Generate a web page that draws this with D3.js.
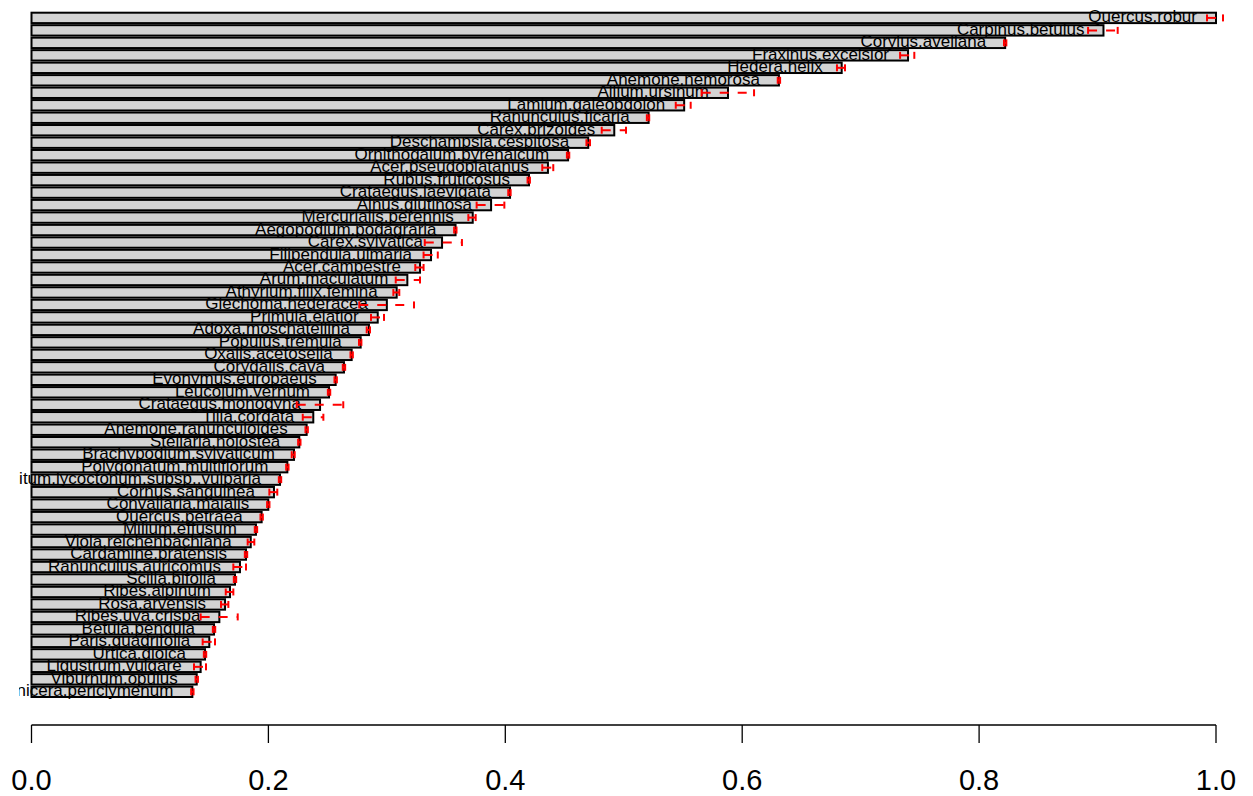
<!DOCTYPE html>
<html>
<head>
<meta charset="utf-8">
<script src="https://cdn.jsdelivr.net/npm/d3@7"></script>
<style>
  html, body { margin: 0; padding: 0; background: #ffffff; }
  svg { display: block; }
  text { font-family: "Liberation Sans", Arial, Helvetica, sans-serif; }
</style>
</head>
<body>
<script>
// ---- data ----
const species = [
  "Quercus.robur","Carpinus.betulus","Corylus.avellana","Fraxinus.excelsior","Hedera.helix",
  "Anemone.nemorosa","Allium.ursinum","Lamium.galeobdolon","Ranunculus.ficaria","Carex.brizoides",
  "Deschampsia.cespitosa","Ornithogalum.pyrenaicum","Acer.pseudoplatanus","Rubus.fruticosus","Crataegus.laevigata",
  "Alnus.glutinosa","Mercurialis.perennis","Aegopodium.podagraria","Carex.sylvatica","Filipendula.ulmaria",
  "Acer.campestre","Arum.maculatum","Athyrium.filix.femina","Glechoma.hederacea","Primula.elatior",
  "Adoxa.moschatellina","Populus.tremula","Oxalis.acetosella","Corydalis.cava","Evonymus.europaeus",
  "Leucojum.vernum","Crataegus.monogyna","Tilia.cordata","Anemone.ranunculoides","Stellaria.holostea",
  "Brachypodium.sylvaticum","Polygonatum.multiflorum","Aconitum.lycoctonum.subsp..vulparia","Cornus.sanguinea","Convallaria.majalis",
  "Quercus.petraea","Milium.effusum","Viola.reichenbachiana","Cardamine.pratensis","Ranunculus.auricomus",
  "Scilla.bifolia","Ribes.alpinum","Rosa.arvensis","Ribes.uva.crispa","Betula.pendula",
  "Paris.quadrifolia","Urtica.dioica","Ligustrum.vulgare","Viburnum.opulus","Lonicera.periclymenum"
];
const importance = [
  1.000, 0.905, 0.822, 0.740, 0.684,
  0.631, 0.588, 0.551, 0.521, 0.492,
  0.470, 0.453, 0.436, 0.420, 0.404,
  0.388, 0.3725, 0.358, 0.3466, 0.3373,
  0.328, 0.3173, 0.3083, 0.300, 0.2923,
  0.2849, 0.2779, 0.2703, 0.2638, 0.2568,
  0.2512, 0.2436, 0.2379, 0.2323, 0.2261,
  0.2216, 0.216, 0.2098, 0.2047, 0.1999,
  0.1943, 0.1895, 0.1851, 0.1811, 0.176,
  0.1718, 0.1676, 0.1634, 0.1586, 0.1541,
  0.1501, 0.1465, 0.1428, 0.1395, 0.1358
];
const lowerCI = [
  0.9924, 0.892, 0.821, 0.7333, 0.680,
  0.630, 0.5658, 0.5439, 0.5195, 0.4814,
  0.4685, 0.4520, 0.4312, 0.4188, 0.4025,
  0.3758, 0.3688, 0.3568, 0.332, 0.331,
  0.324, 0.3075, 0.3055, 0.2767, 0.2866,
  0.283, 0.2765, 0.2693, 0.2628, 0.2558,
  0.2502, 0.2239, 0.229, 0.2313, 0.2251,
  0.2197, 0.215, 0.2088, 0.2008, 0.1989,
  0.1933, 0.1885, 0.1825, 0.1801, 0.1704,
  0.1708, 0.164, 0.160, 0.1428, 0.1531,
  0.1445, 0.1455, 0.1372, 0.1385, 0.1348
];
const upperCI = [
  1.0059, 0.917, 0.823, 0.7453, 0.6868,
  0.632, 0.610, 0.5565, 0.5215, 0.5019,
  0.4715, 0.4540, 0.4405, 0.4208, 0.4045,
  0.3992, 0.375, 0.3588, 0.3634, 0.343,
  0.331, 0.328, 0.3105, 0.3229, 0.2976,
  0.2858, 0.2785, 0.2713, 0.2648, 0.2578,
  0.2522, 0.2632, 0.2464, 0.2333, 0.2271,
  0.2222, 0.217, 0.2108, 0.2075, 0.2009,
  0.1953, 0.1905, 0.1881, 0.1821, 0.1811,
  0.1728, 0.1704, 0.1662, 0.1741, 0.1551,
  0.1549, 0.1475, 0.1473, 0.1405, 0.1368
];
const xTicks = [0, 0.2, 0.4, 0.6, 0.8, 1.0];

// ---- layout ----
const W = 1253, H = 796;
const svg = d3.select("body").append("svg").attr("width", W).attr("height", H);

const x = d3.scaleLinear().domain([0, 1]).range([31.5, 1216]);
const y = d3.scaleBand().domain(species).range([12.7, 697]).paddingInner(1/6).paddingOuter(0);

const data = species.map((s, i) => ({ name: s, v: importance[i], lo: lowerCI[i], hi: upperCI[i] }));

svg.append("defs").append("clipPath").attr("id", "clip")
  .append("rect").attr("x", 19).attr("y", 0).attr("width", W - 19).attr("height", 720);

// bars
svg.append("g").selectAll("rect").data(data).join("rect")
  .attr("x", x(0))
  .attr("y", d => y(d.name))
  .attr("width", d => x(d.v) - x(0))
  .attr("height", y.bandwidth())
  .attr("fill", "#d3d3d3")
  .attr("stroke", "#000")
  .attr("stroke-width", 2);

// labels
svg.append("g").attr("clip-path", "url(#clip)").selectAll("text").data(data).join("text")
  .attr("x", d => x(d.v) - 19)
  .attr("y", d => y(d.name) + y.bandwidth() / 2 + 4.5)
  .attr("text-anchor", "end")
  .attr("font-size", 17)
  .attr("fill", "#000")
  .text(d => d.name);

// error bars
const eg = svg.append("g").attr("stroke", "#ff0000").attr("stroke-width", 2).attr("fill", "none");
const capH = 3.5;
data.forEach(d => {
  const cy = y(d.name) + y.bandwidth() / 2;
  eg.append("line")
    .attr("x1", x(d.lo)).attr("x2", x(d.hi)).attr("y1", cy).attr("y2", cy)
    .attr("stroke-dasharray", "9,9");
  eg.append("line")
    .attr("x1", x(d.lo)).attr("x2", x(d.lo)).attr("y1", cy - capH).attr("y2", cy + capH);
  eg.append("line")
    .attr("x1", x(d.hi)).attr("x2", x(d.hi)).attr("y1", cy - capH).attr("y2", cy + capH);
});

// x axis
const ax = svg.append("g");
ax.append("line")
  .attr("x1", x(0)).attr("x2", x(1)).attr("y1", 725).attr("y2", 725)
  .attr("stroke", "#000").attr("stroke-width", 1.3);
ax.selectAll("line.tick").data(xTicks).join("line")
  .attr("class", "tick")
  .attr("x1", d => x(d)).attr("x2", d => x(d)).attr("y1", 725).attr("y2", 743)
  .attr("stroke", "#000").attr("stroke-width", 1.3);
ax.selectAll("text").data(xTicks).join("text")
  .attr("x", d => x(d)).attr("y", 790)
  .attr("text-anchor", "middle")
  .attr("font-size", 29)
  .attr("fill", "#000")
  .text(d => d3.format(".1f")(d));
</script>
</body>
</html>
